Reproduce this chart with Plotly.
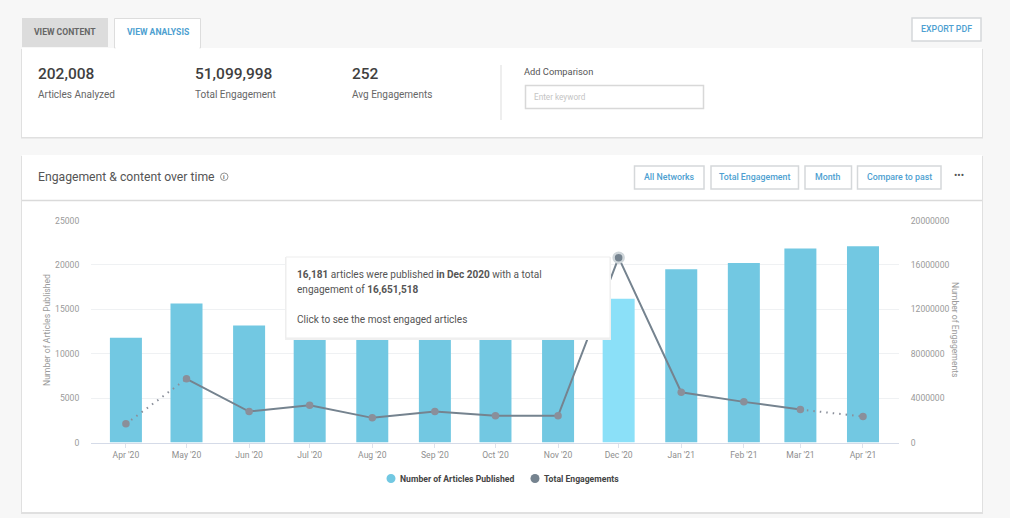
import plotly.graph_objects as go

dates = ["2020-04-01", "2020-05-01", "2020-06-01", "2020-07-01", "2020-08-01", "2020-09-01", "2020-10-01",
         "2020-11-01", "2020-12-01", "2021-01-01", "2021-02-01", "2021-03-01", "2021-04-01"]
months = ["Apr '20", "May '20", "Jun '20", "Jul '20", "Aug '20", "Sep '20", "Oct '20",
          "Nov '20", "Dec '20", "Jan '21", "Feb '21", "Mar '21", "Apr '21"]
articles = [11800, 15650, 13170, 12800, 12100, 12300, 12000, 12350, 16181, 19500, 20200, 21850, 22100]
engagements = [1680000, 5740000, 2790000, 3360000, 2220000, 2790000, 2400000, 2400000, 16651518,
               4530000, 3660000, 2970000, 2340000]
highlight = "Dec '20"

W, H = 1010, 518
BAR = "#72C8E2"
BAR_HI = "#8BE0F8"
LINE = "#75838F"
DOT = "#8A8F9A"
BLUE = "#4E9FD1"
FONT = "Roboto"
DAY_MS = 86400000


def px(x):
    return x / W


def py(y):
    return 1 - y / H


shapes = []
notes = []


def box(x0, y0, x1, y1, fill="white", border=None, width=1, layer="below"):
    shapes.append(dict(type="rect", xref="paper", yref="paper", layer=layer,
                       x0=px(x0), x1=px(x1), y0=py(y0), y1=py(y1), fillcolor=fill,
                       line=dict(color=border or fill, width=width if border else 0)))


def text(x, y, s, size=10, color="#555555", anchor="left", weight=400, angle=0):
    # annotations pad their box by a couple of px
    if anchor == "left":
        x -= 2
    notes.append(dict(xref="paper", yref="paper", x=px(x), y=py(y), text=s, showarrow=False,
                      xanchor=anchor, yanchor="middle", textangle=angle,
                      font=dict(family=FONT, size=size, color=color, weight=weight)))


def button(x0, y0, x1, y1, s):
    box(x0, y0, x1, y1, "white", "#D5D8DA", 1.5)
    text((x0 + x1) / 2, (y0 + y1) / 2 - 0.5, s, 8.8, BLUE, "center", 500)


# cards
box(21, 49, 983, 138.5, "#E0E0E0")
box(22, 48, 982, 137)
box(21, 156, 983, 514, "#E0E0E0")
box(22, 155, 982, 512)
shapes.append(dict(type="line", xref="paper", yref="paper", layer="below", x0=px(22), x1=px(982),
                   y0=py(200.5), y1=py(200.5), line=dict(color="#DADADA", width=1.5)))
shapes.append(dict(type="line", xref="paper", yref="paper", layer="below", x0=px(501), x1=px(501),
                   y0=py(65), y1=py(120), line=dict(color="#DDDDDD", width=1)))

# tabs
box(22, 18, 108, 47, "#DCDCDC")
text(65, 31.5, "VIEW CONTENT", 8.6, "#666666", "center", 700)
box(114.5, 18.5, 200.5, 48, "white", "#DDDDDD", 1)
box(115.5, 44, 199.5, 50)
text(157.5, 31.5, "VIEW ANALYSIS", 8.6, BLUE, "center", 700)
button(912, 18, 981, 41, "EXPORT PDF")

# summary numbers
text(38, 74, "202,008", 15.5, "#3F3F3F", weight=500)
text(38, 94.5, "Articles Analyzed", 10, "#666666")
text(195, 74, "51,099,998", 15.5, "#3F3F3F", weight=500)
text(195, 94.5, "Total Engagement", 10, "#666666")
text(351.5, 74, "252", 15.5, "#3F3F3F", weight=500)
text(351.5, 94.5, "Avg Engagements", 10, "#666666")
text(524, 72, "Add Comparison", 9.3, "#555555")
box(525.5, 85.5, 703.5, 108.5, "white", "#D8D8D8", 1.5)
text(534, 96.5, "Enter keyword", 8.2, "#C4C4C4")

# chart header
text(38, 177, "Engagement &amp; content over time", 12.2, "#555555")
shapes.append(dict(type="circle", xref="paper", yref="paper", layer="below", x0=px(220.5), x1=px(228),
                   y0=py(173), y1=py(180.5), fillcolor="white", line=dict(color="#777777", width=0.8)))
text(224.2, 176.8, "i", 6, "#666666", "center", 700)
button(634.5, 166, 704, 189, "All Networks")
button(711, 166, 798.5, 189, "Total Engagement")
button(805, 166, 851.5, 189, "Month")
button(857.5, 166, 941, 189, "Compare to past")
text(958.5, 175.5, "•••", 10, "#555555", "center")

# axis titles
text(47, 330, "Number of Articles Published", 8.6, "#9A9A9A", "center", angle=-90)
text(955, 330, "Number of Engagements", 8.6, "#9A9A9A", "center", angle=90)

# tooltip
box(285, 257, 611, 340, "#F0F0F0", layer="above")
box(286, 257, 610, 338, "white", "#EDEDED", 1, layer="above")
text(297, 275, "<b>16,181</b> articles were published <b>in Dec 2020</b> with a total", 10.05, "#555555")
text(297, 290, "engagement of <b>16,651,518</b>", 10.05, "#555555")
text(297, 319, "Click to see the most engaged articles", 10.05, "#555555")

# legend
shapes.append(dict(type="circle", xref="paper", yref="paper", x0=px(386.5), x1=px(395.5),
                   y0=py(474), y1=py(483), fillcolor=BAR, line=dict(width=0)))
text(400, 478.5, "Number of Articles Published", 8.65, "#444444", weight=700)
shapes.append(dict(type="circle", xref="paper", yref="paper", x0=px(530.5), x1=px(539.5),
                   y0=py(474), y1=py(483), fillcolor=LINE, line=dict(width=0)))
text(544, 478.5, "Total Engagements", 8.65, "#444444", weight=700)

fig = go.Figure()
fig.add_bar(x=dates, y=articles, name="Number of Articles Published", width=15.85 * DAY_MS,
            marker=dict(color=[BAR_HI if m == highlight else BAR for m in months], line_width=0))
# dotted ends are partial months
fig.add_scatter(x=dates[:2], y=engagements[:2], yaxis="y2", mode="lines",
                line=dict(color=DOT, width=2, dash="1.5px,5px"), name="Apr-May")
fig.add_scatter(x=dates[-2:], y=engagements[-2:], yaxis="y2", mode="lines",
                line=dict(color=DOT, width=2, dash="1.5px,5px"), name="Mar-Apr")
fig.add_scatter(x=dates[1:-1], y=engagements[1:-1], yaxis="y2", mode="lines",
                line=dict(color=LINE, width=2), name="Total Engagements")
fig.add_scatter(x=dates, y=engagements, yaxis="y2", mode="markers",
                marker=dict(color=DOT, size=7.5), name="Points")
i = months.index(highlight)
fig.add_scatter(x=[dates[i]], y=[engagements[i]], yaxis="y2", mode="markers",
                marker=dict(color=LINE, size=10, line=dict(color="#CFD6DA", width=2.5)), name="Hover")

fig.update_layout(
    width=W, height=H,
    margin=dict(l=0, r=0, t=0, b=0),
    paper_bgcolor="#F7F7F7",
    plot_bgcolor="rgba(0,0,0,0)",
    showlegend=False,
    font=dict(family=FONT, size=8.6, color="#999999"),
    shapes=shapes,
    annotations=notes,
    xaxis=dict(domain=[px(91), px(899)], type="date", range=["2020-03-14 17:00", "2021-04-18 20:00"],
               showgrid=False, tickmode="array", tickvals=dates, ticktext=months,
               ticks="outside", ticklen=4, tickcolor="#DDE2EC", tickwidth=1,
               showline=True, linecolor="#D5DBE8", linewidth=1, tickangle=0, automargin=False,
               tickfont=dict(size=8.6, color="#8F8F8F")),
    yaxis=dict(domain=[py(442.5), py(220.5)], range=[0, 25000], dtick=5000, tickformat="d",
               gridcolor="#EFF1F3", gridwidth=1, zeroline=False, showline=False, automargin=False,
               ticks="outside", ticklen=9, tickcolor="rgba(0,0,0,0)",
               tickfont=dict(size=8.6, color="#9A9A9A")),
    yaxis2=dict(overlaying="y", side="right", range=[0, 20000000], dtick=4000000, tickformat="d",
                showgrid=False, zeroline=False, showline=False, automargin=False,
                tickfont=dict(size=8.6, color="#9A9A9A"),
                ticks="outside", ticklen=9, tickcolor="rgba(0,0,0,0)"),
)

fig.write_html("out.html", config={"displayModeBar": False},
               post_script="document.body.style.margin='0';")
